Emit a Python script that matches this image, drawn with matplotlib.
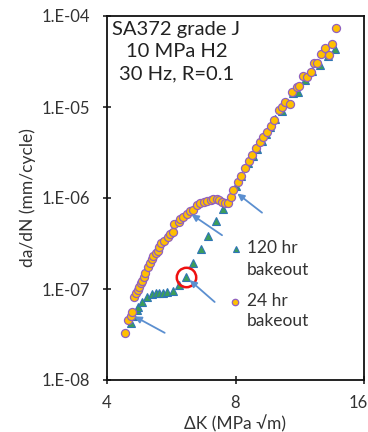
import matplotlib
matplotlib.use("Agg")
import matplotlib.pyplot as plt
import matplotlib.transforms as mtransforms
from matplotlib.ticker import FixedLocator, FixedFormatter, NullLocator

plt.rcParams['font.family'] = ['Lato', 'DejaVu Sans']

# 24 hr bakeout: stress intensity range (MPa sqrt(m)) and growth rate (mm/cycle)
dk_24 = [4.41, 4.49, 4.55, 4.58, 4.62, 4.68, 4.72, 4.76, 4.80, 4.84, 4.88, 4.92,
         5.00, 5.04, 5.09, 5.13, 5.20, 5.26, 5.30, 5.35, 5.45, 5.55, 5.62, 5.70,
         5.74, 5.89, 5.93, 6.04, 6.17, 6.26, 6.35, 6.49, 6.61, 6.75, 6.87, 7.00,
         7.10, 7.23, 7.33, 7.44, 7.56, 7.67, 7.81, 7.91, 8.12, 8.25, 8.42, 8.60,
         8.76, 8.92, 9.13, 9.30, 9.50, 9.67, 9.85, 10.12, 10.30, 10.45, 10.74,
         10.87, 11.13, 11.27, 11.54, 11.75, 12.00, 12.22, 12.44, 12.67, 12.94,
         13.25, 13.48, 13.74]
dadn_24 = [3.28e-8, 4.56e-8, 5.05e-8, 5.64e-8, 8.10e-8, 8.97e-8, 9.75e-8, 1.06e-7,
           1.16e-7, 1.23e-7, 1.36e-7, 1.51e-7, 1.76e-7, 1.91e-7, 2.12e-7, 2.31e-7,
           2.47e-7, 2.64e-7, 2.92e-7, 3.18e-7, 3.40e-7, 3.70e-7, 4.02e-7, 4.26e-7,
           5.14e-7, 5.49e-7, 5.83e-7, 6.14e-7, 6.68e-7, 7.25e-7, 7.38e-7, 8.37e-7,
           8.73e-7, 9.11e-7, 9.35e-7, 9.51e-7, 9.66e-7, 9.66e-7, 9.51e-7, 9.11e-7,
           8.89e-7, 8.73e-7, 1.02e-6, 1.23e-6, 1.51e-6, 1.76e-6, 2.12e-6, 2.55e-6,
           2.97e-6, 3.52e-6, 4.16e-6, 4.72e-6, 5.36e-6, 6.18e-6, 7.20e-6, 9.27e-6,
           1.01e-5, 1.14e-5, 1.08e-5, 1.47e-5, 1.64e-5, 1.70e-5, 2.19e-5, 2.12e-5,
           2.44e-5, 3.07e-5, 3.07e-5, 3.82e-5, 4.42e-5, 3.73e-5, 4.92e-5, 7.33e-5]

# 120 hr bakeout
dk_120 = [4.55, 4.60, 4.69, 4.74, 4.82, 4.96, 5.09, 5.20, 5.30, 5.42, 5.53, 5.70,
          5.91, 6.13, 6.37, 6.63, 6.89, 7.19, 7.49, 8.02, 8.24, 8.56, 8.81, 8.98,
          9.23, 9.43, 9.63, 9.90, 10.27, 10.56, 10.91, 11.20, 11.64, 12.08, 12.62,
          13.20, 13.68]
dadn_120 = [4.26e-8, 5.05e-8, 5.88e-8, 6.40e-8, 7.25e-8, 8.17e-8, 8.71e-8, 8.93e-8,
            9.10e-8, 9.10e-8, 9.20e-8, 9.50e-8, 1.11e-7, 1.35e-7, 1.91e-7, 2.73e-7,
            3.82e-7, 5.59e-7, 7.57e-7, 1.36e-6, 1.76e-6, 2.42e-6, 2.88e-6, 3.45e-6,
            4.25e-6, 5.05e-6, 6.05e-6, 7.40e-6, 9.00e-6, 1.10e-5, 1.42e-5, 1.46e-5,
            2.00e-5, 2.48e-5, 2.92e-5, 3.60e-5, 4.30e-5]

# highlighted 120 hr point
ring_dk, ring_dadn = 6.13, 1.35e-7

x_ticks = [4, 8, 16]
x_labels = ["4", "8", "16"]
y_ticks = [1e-8, 1e-7, 1e-6, 1e-5, 1e-4]
y_labels = ["1.E-08", "1.E-07", "1.E-06", "1.E-05", "1.E-04"]

# arrows: (tail dK, tail da/dN, head dK, head da/dN)
arrows = [
    (5.46, 3.3e-8, 4.64, 5.0e-8),
    (7.15, 7.2e-8, 6.25, 1.25e-7),
    (7.44, 3.9e-7, 6.31, 6.6e-7),
    (9.23, 6.9e-7, 8.08, 1.12e-6),
]

arrow_color = "#5b8fd0"
circle_face, circle_edge = "#ffc000", "#9060c0"
tri_face, tri_edge = "#3c9e5a", "#2e75b6"

fig = plt.figure(figsize=(3.68, 4.32), dpi=100)
ax = fig.add_axes([107 / 368, 1 - 380 / 432, 257 / 368, 364 / 432])
ax.set_xscale("log", base=2)
ax.set_yscale("log")
ax.set_xlim(4, 16)
ax.set_ylim(1e-8, 1e-4)

ax.plot(dk_120, dadn_120, linestyle="none", marker="^", markersize=6,
        markerfacecolor=tri_face, markeredgecolor=tri_edge, markeredgewidth=0.8,
        zorder=3)
ax.plot(dk_24, dadn_24, linestyle="none", marker="o", markersize=5.8,
        markerfacecolor=circle_face, markeredgecolor=circle_edge,
        markeredgewidth=0.9, zorder=4)
ax.plot([ring_dk], [ring_dadn], linestyle="none", marker="o", markersize=14,
        markerfacecolor="none", markeredgecolor="#ee1111", markeredgewidth=1.8,
        zorder=5)

for x0, y0, x1, y1 in arrows:
    ax.annotate("", xy=(x1, y1), xytext=(x0, y0),
                arrowprops=dict(arrowstyle="-|>", color=arrow_color, lw=1.3,
                                mutation_scale=10, shrinkA=0, shrinkB=0),
                zorder=6)

ax.xaxis.set_major_locator(FixedLocator(x_ticks))
ax.xaxis.set_major_formatter(FixedFormatter(x_labels))
ax.xaxis.set_minor_locator(NullLocator())
ax.yaxis.set_major_locator(FixedLocator(y_ticks))
ax.yaxis.set_major_formatter(FixedFormatter(y_labels))
ax.yaxis.set_minor_locator(NullLocator())
ax.tick_params(axis="both", direction="inout", length=6, width=1.2,
               labelsize=12, colors="#222222", labelcolor="#333333")
ax.tick_params(axis="x", pad=8)
ax.tick_params(axis="y", pad=9)
for sp in ax.spines.values():
    sp.set_linewidth(1.3)
    sp.set_color("#111111")

# keep the last x tick label inside the figure
last = ax.get_xticklabels()[-1]
last.set_transform(last.get_transform() +
                   mtransforms.ScaledTranslation(-4 / 72, 0, fig.dpi_scale_trans))

ax.set_xlabel("ΔK (MPa √m)", fontsize=12.5, color="#333333", labelpad=3)
ax.set_ylabel("da/dN (mm/cycle)", fontsize=12.5, color="#333333", labelpad=4)

ax.text(0.27, 0.985, "SA372 grade J\n10 MPa H2\n30 Hz, R=0.1", transform=ax.transAxes,
        ha="center", va="top", fontsize=14.5, color="#222222", linespacing=1.35)

# legend drawn as marker + two-line label
ax.plot([0.501], [0.359], transform=ax.transAxes, linestyle="none", marker="^",
        markersize=5, markerfacecolor=tri_face, markeredgecolor=tri_edge,
        markeredgewidth=0.8, clip_on=False)
ax.text(0.545, 0.385, "120 hr\nbakeout", transform=ax.transAxes, ha="left",
        va="top", fontsize=12.5, color="#333333", linespacing=1.45)
ax.plot([0.497], [0.214], transform=ax.transAxes, linestyle="none", marker="o",
        markersize=4.6, markerfacecolor=circle_face, markeredgecolor=circle_edge,
        markeredgewidth=0.9, clip_on=False)
ax.text(0.545, 0.240, "24 hr\nbakeout", transform=ax.transAxes, ha="left",
        va="top", fontsize=12.5, color="#333333", linespacing=1.35)

fig.savefig("out.png", dpi=100)
